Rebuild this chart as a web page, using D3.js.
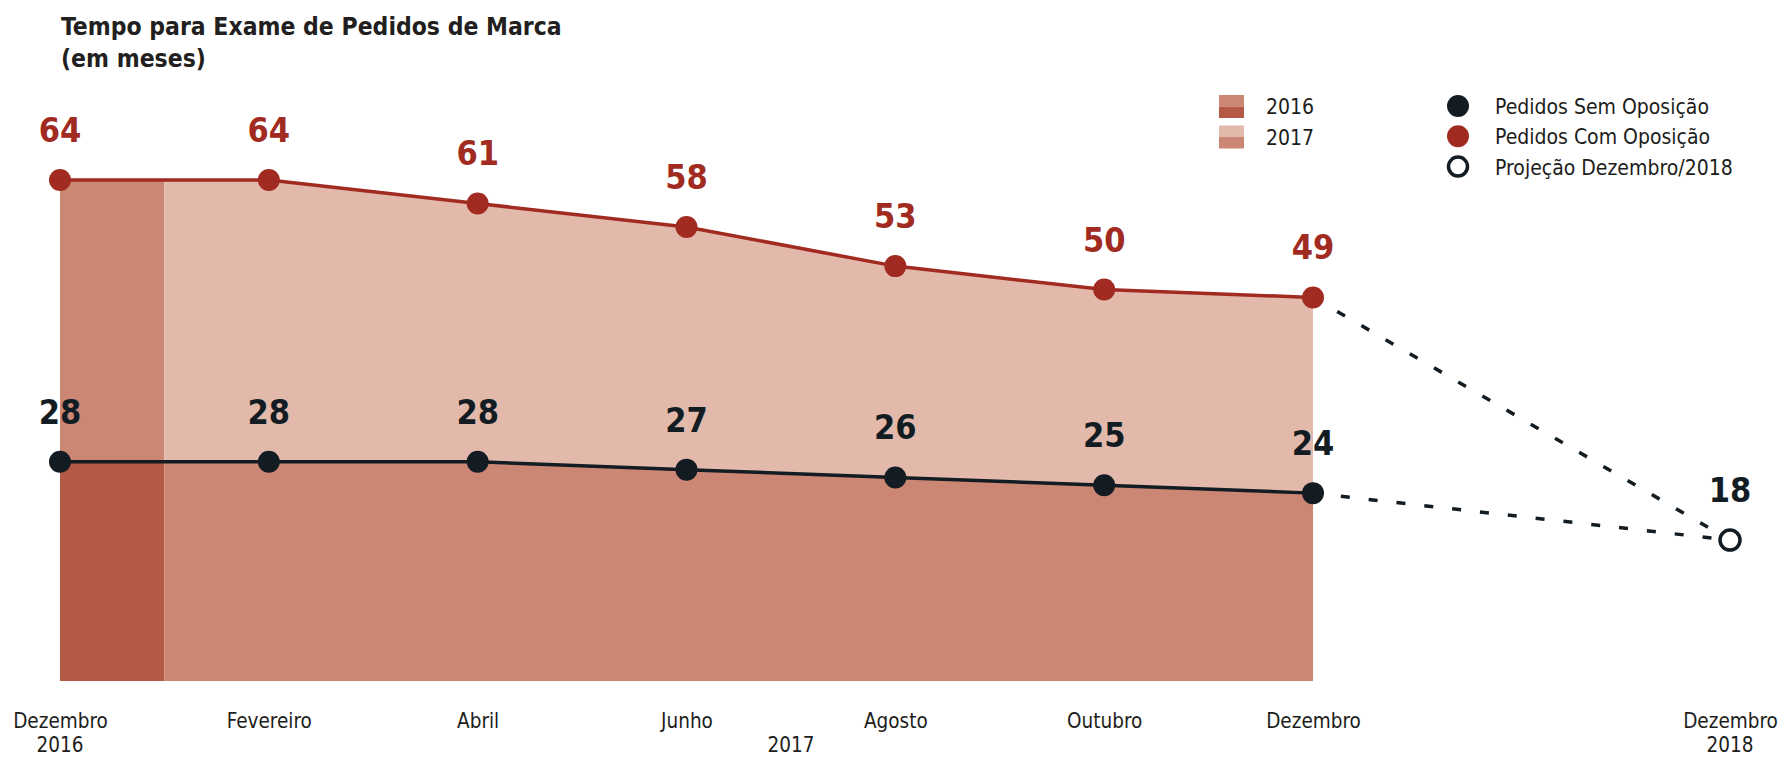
<!DOCTYPE html>
<html>
<head>
<meta charset="utf-8">
<script src="https://cdn.jsdelivr.net/npm/d3@7"></script>
<style>
    body { margin: 0; background: #fff; }
    svg text { font-family: "Liberation Sans Narrow", "DejaVu Sans Condensed", "Open Sans", sans-serif; }
</style>
</head>
<body>
<svg id="chart"></svg>
<script>
// months counted from Dezembro 2016
const months = [0, 2, 4, 6, 8, 10, 12];
const monthLabels = ["Dezembro", "Fevereiro", "Abril", "Junho", "Agosto", "Outubro", "Dezembro"];
const semOposicao = [28, 28, 28, 27, 26, 25, 24];
const comOposicao = [64, 64, 61, 58, 53, 50, 49];
const projMonth = 24;
const projLabel = "Dezembro";
const projValue = 18;
const years = ["2016", "2017", "2018"];
const yearMonths = [0, 7, 24];
const end2016 = 1; // 2016 band ends at the turn of the year
const legendYears = ["2016", "2017"];
const legendSeries = ["Pedidos Sem Oposição", "Pedidos Com Oposição", "Projeção Dezembro/2018"];

const width = 1789,
    height = 758;
const red = "#a12a21",
    black = "#121c22",
    light = "#e2b9ab",
    medium = "#cb8674",
    dark = "#b35946";

const svg = d3.select("#chart")
    .attr("width", width)
    .attr("height", height);

const x = d3.scaleLinear().domain([0, 12, 24]).range([60, 1313, 1730]);
const y = d3.scaleLinear().domain([0, 64]).range([681, 180]);

const data = months.map((m, i) => ({m: m, sem: semOposicao[i], com: comOposicao[i]}));

// clip the areas into the 2016 column and the 2017 part
const defs = svg.append("defs");
defs.append("clipPath").attr("id", "clip2016")
    .append("rect")
    .attr("x", x(0)).attr("y", 0)
    .attr("width", x(end2016) - x(0)).attr("height", height);
defs.append("clipPath").attr("id", "clip2017")
    .append("rect")
    .attr("x", x(end2016)).attr("y", 0)
    .attr("width", x(12) - x(end2016)).attr("height", height);

const areaCom = d3.area().x(d => x(d.m)).y0(y(0)).y1(d => y(d.com));
const areaSem = d3.area().x(d => x(d.m)).y0(y(0)).y1(d => y(d.sem));

svg.append("path").datum(data).attr("d", areaCom).attr("fill", medium).attr("clip-path", "url(#clip2016)");
svg.append("path").datum(data).attr("d", areaSem).attr("fill", dark).attr("clip-path", "url(#clip2016)");
svg.append("path").datum(data).attr("d", areaCom).attr("fill", light).attr("clip-path", "url(#clip2017)");
svg.append("path").datum(data).attr("d", areaSem).attr("fill", medium).attr("clip-path", "url(#clip2017)");

// projection lines
const last = data[data.length - 1];
[last.com, last.sem].forEach(v => {
    svg.append("path")
        .datum([{m: 12, v: v}, {m: projMonth, v: projValue}])
        .attr("d", d3.line().x(d => x(d.m)).y(d => y(d.v)))
        .attr("fill", "none")
        .attr("stroke", black)
        .attr("stroke-width", 3.5)
        .attr("stroke-dasharray", "9,19");
});

// lines
svg.append("path").datum(data)
    .attr("d", d3.line().x(d => x(d.m)).y(d => y(d.com)))
    .attr("fill", "none").attr("stroke", red).attr("stroke-width", 3.5);
svg.append("path").datum(data)
    .attr("d", d3.line().x(d => x(d.m)).y(d => y(d.sem)))
    .attr("fill", "none").attr("stroke", black).attr("stroke-width", 3.5);

// dots
svg.append("g").selectAll("circle").data(data).join("circle")
    .attr("cx", d => x(d.m)).attr("cy", d => y(d.com)).attr("r", 11).attr("fill", red);
svg.append("g").selectAll("circle").data(data).join("circle")
    .attr("cx", d => x(d.m)).attr("cy", d => y(d.sem)).attr("r", 11).attr("fill", black);
svg.append("circle")
    .attr("cx", x(projMonth)).attr("cy", y(projValue)).attr("r", 10)
    .attr("fill", "#fff").attr("stroke", black).attr("stroke-width", 3.5);

// value labels
const valueSize = 34;
svg.append("g").selectAll("text").data(data).join("text")
    .attr("x", d => x(d.m)).attr("y", d => y(d.com) - 38)
    .attr("text-anchor", "middle").attr("font-size", valueSize).attr("font-weight", "bold")
    .attr("fill", red).text(d => d.com);
svg.append("g").selectAll("text").data(data).join("text")
    .attr("x", d => x(d.m)).attr("y", d => y(d.sem) - 38)
    .attr("text-anchor", "middle").attr("font-size", valueSize).attr("font-weight", "bold")
    .attr("fill", black).text(d => d.sem);
svg.append("text")
    .attr("x", x(projMonth)).attr("y", y(projValue) - 38)
    .attr("text-anchor", "middle").attr("font-size", valueSize).attr("font-weight", "bold")
    .attr("fill", black).text(projValue);

// x axis
const tickMonths = months.concat([projMonth]);
const tickNames = monthLabels.concat([projLabel]);
const gx = svg.append("g").attr("transform", "translate(0,710)")
    .call(d3.axisBottom(x).tickValues(tickMonths).tickSize(0).tickFormat((d, i) => tickNames[i]));
gx.select(".domain").remove();
gx.selectAll("text")
    .attr("font-size", 20.5)
    .attr("fill", "#1d1d1b")
    .attr("dy", 0).attr("y", 18);

svg.append("g").selectAll("text").data(years).join("text")
    .attr("x", (d, i) => x(yearMonths[i])).attr("y", 752)
    .attr("text-anchor", "middle").attr("font-size", 20.5).attr("fill", "#1d1d1b")
    .text(d => d);

// title
svg.append("text").attr("x", 61).attr("y", 35)
    .attr("font-size", 24.5).attr("font-weight", "bold").attr("fill", "#231f20")
    .text("Tempo para Exame de Pedidos de Marca");
svg.append("text").attr("x", 61).attr("y", 67)
    .attr("font-size", 24.5).attr("font-weight", "bold").attr("fill", "#231f20")
    .text("(em meses)");

// legend years
const legYear = svg.append("g").attr("transform", "translate(1219,95)");
const yearColors = [[medium, dark], [light, medium]];
legendYears.forEach((t, i) => {
    const g = legYear.append("g").attr("transform", `translate(0,${i * 30.5})`);
    g.append("rect").attr("width", 25).attr("height", 11.5).attr("fill", yearColors[i][0]);
    g.append("rect").attr("y", 11.5).attr("width", 25).attr("height", 11.5).attr("fill", yearColors[i][1]);
    g.append("text").attr("x", 47).attr("y", 19).attr("font-size", 21).attr("fill", "#1d1d1b").text(t);
});

// legend series
const legSeries = svg.append("g").attr("transform", "translate(1458,106)");
legendSeries.forEach((t, i) => {
    const c = legSeries.append("circle").attr("cy", i * 30.3).attr("r", i == 2 ? 9.5 : 11);
    if (i == 2) c.attr("fill", "#fff").attr("stroke", black).attr("stroke-width", 3.5);
    else c.attr("fill", i == 0 ? black : red);
    legSeries.append("text").attr("x", 37).attr("y", i * 30.3 + 8)
        .attr("font-size", 21).attr("fill", "#1d1d1b").text(t);
});
</script>
</body>
</html>
